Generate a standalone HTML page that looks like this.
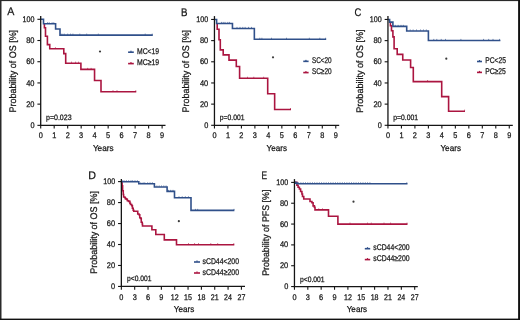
<!DOCTYPE html>
<html><head><meta charset="utf-8"><style>
html,body{margin:0;padding:0;background:#fff;}
svg{display:block;will-change:transform;}
text{font-family:'Liberation Sans', sans-serif;text-rendering:geometricPrecision;}
</style></head><body>
<svg xmlns="http://www.w3.org/2000/svg" width="520" height="320" viewBox="0 0 520 320">
<rect x="0" y="0" width="520" height="320" fill="#fff"/>
<path d="M44.4,23.8 V27.8 H45.5 V36.3 H47.4 V44.6 H49.75 V48.8 H63.8 V53.6 H65.7 V63.2 H80.9 V69.4 H94.55 V80.55 H101 V91.75 H136.25" fill="none" stroke="#ab1540" stroke-width="1.6" stroke-linejoin="miter" stroke-linecap="butt" />
<rect x="54.95" y="47.25" width="0.9" height="1.2" fill="#ab1540" fill-opacity="0.7"/>
<rect x="71.05" y="61.65" width="0.9" height="1.2" fill="#ab1540" fill-opacity="0.7"/>
<rect x="75.15" y="61.65" width="0.9" height="1.2" fill="#ab1540" fill-opacity="0.7"/>
<rect x="78.05" y="61.65" width="0.9" height="1.2" fill="#ab1540" fill-opacity="0.7"/>
<rect x="87.25" y="67.85" width="0.9" height="1.2" fill="#ab1540" fill-opacity="0.7"/>
<rect x="90.65" y="67.85" width="0.9" height="1.2" fill="#ab1540" fill-opacity="0.7"/>
<rect x="112.55" y="90.20" width="0.9" height="1.2" fill="#ab1540" fill-opacity="0.7"/>
<rect x="116.55" y="90.20" width="0.9" height="1.2" fill="#ab1540" fill-opacity="0.7"/>
<rect x="135.35" y="90.20" width="0.9" height="1.2" fill="#ab1540" fill-opacity="0.7"/>
<path d="M40.7,19.3 H43.5 V23.8 H55.6 V29.05 H60 V35.15 H152.8" fill="none" stroke="#30508a" stroke-width="1.6" stroke-linejoin="miter" stroke-linecap="butt" />
<rect x="47.05" y="22.25" width="0.9" height="1.2" fill="#30508a" fill-opacity="0.7"/>
<rect x="48.75" y="22.25" width="0.9" height="1.2" fill="#30508a" fill-opacity="0.7"/>
<rect x="51.65" y="22.25" width="0.9" height="1.2" fill="#30508a" fill-opacity="0.7"/>
<rect x="53.35" y="22.25" width="0.9" height="1.2" fill="#30508a" fill-opacity="0.7"/>
<rect x="61.45" y="33.60" width="0.9" height="1.2" fill="#30508a" fill-opacity="0.7"/>
<rect x="63.75" y="33.60" width="0.9" height="1.2" fill="#30508a" fill-opacity="0.7"/>
<rect x="67.25" y="33.60" width="0.9" height="1.2" fill="#30508a" fill-opacity="0.7"/>
<rect x="70.15" y="33.60" width="0.9" height="1.2" fill="#30508a" fill-opacity="0.7"/>
<rect x="72.45" y="33.60" width="0.9" height="1.2" fill="#30508a" fill-opacity="0.7"/>
<rect x="79.35" y="33.60" width="0.9" height="1.2" fill="#30508a" fill-opacity="0.7"/>
<rect x="86.25" y="33.60" width="0.9" height="1.2" fill="#30508a" fill-opacity="0.7"/>
<rect x="97.85" y="33.60" width="0.9" height="1.2" fill="#30508a" fill-opacity="0.7"/>
<rect x="144.75" y="33.60" width="0.9" height="1.2" fill="#30508a" fill-opacity="0.7"/>
<rect x="151.75" y="33.60" width="0.9" height="1.2" fill="#30508a" fill-opacity="0.7"/>
<line x1="40.70" y1="16.10" x2="40.70" y2="126.00" stroke="#151515" stroke-width="1.3"/>
<line x1="40.05" y1="125.35" x2="165.50" y2="125.35" stroke="#151515" stroke-width="1.3"/>
<line x1="37.40" y1="125.35" x2="40.70" y2="125.35" stroke="#151515" stroke-width="1.1"/>
<text x="34.50" y="127.95" font-size="8.2" text-anchor="end" textLength="4.10" lengthAdjust="spacingAndGlyphs" fill="#151515" stroke="#151515" stroke-width="0.25" >0</text>
<line x1="37.40" y1="104.14" x2="40.70" y2="104.14" stroke="#151515" stroke-width="1.1"/>
<text x="34.50" y="106.74" font-size="8.2" text-anchor="end" textLength="8.30" lengthAdjust="spacingAndGlyphs" fill="#151515" stroke="#151515" stroke-width="0.25" >20</text>
<line x1="37.40" y1="82.93" x2="40.70" y2="82.93" stroke="#151515" stroke-width="1.1"/>
<text x="34.50" y="85.53" font-size="8.2" text-anchor="end" textLength="8.30" lengthAdjust="spacingAndGlyphs" fill="#151515" stroke="#151515" stroke-width="0.25" >40</text>
<line x1="37.40" y1="61.72" x2="40.70" y2="61.72" stroke="#151515" stroke-width="1.1"/>
<text x="34.50" y="64.32" font-size="8.2" text-anchor="end" textLength="8.30" lengthAdjust="spacingAndGlyphs" fill="#151515" stroke="#151515" stroke-width="0.25" >60</text>
<line x1="37.40" y1="40.51" x2="40.70" y2="40.51" stroke="#151515" stroke-width="1.1"/>
<text x="34.50" y="43.11" font-size="8.2" text-anchor="end" textLength="8.30" lengthAdjust="spacingAndGlyphs" fill="#151515" stroke="#151515" stroke-width="0.25" >80</text>
<line x1="37.40" y1="19.30" x2="40.70" y2="19.30" stroke="#151515" stroke-width="1.1"/>
<text x="34.50" y="21.90" font-size="8.2" text-anchor="end" textLength="11.90" lengthAdjust="spacingAndGlyphs" fill="#151515" stroke="#151515" stroke-width="0.25" >100</text>
<line x1="40.70" y1="125.35" x2="40.70" y2="128.55" stroke="#151515" stroke-width="1.1"/>
<text x="40.70" y="138.00" font-size="8.2" text-anchor="middle" textLength="4.10" lengthAdjust="spacingAndGlyphs" fill="#151515" stroke="#151515" stroke-width="0.25" >0</text>
<line x1="54.19" y1="125.35" x2="54.19" y2="128.55" stroke="#151515" stroke-width="1.1"/>
<text x="54.19" y="138.00" font-size="8.2" text-anchor="middle" textLength="4.10" lengthAdjust="spacingAndGlyphs" fill="#151515" stroke="#151515" stroke-width="0.25" >1</text>
<line x1="67.68" y1="125.35" x2="67.68" y2="128.55" stroke="#151515" stroke-width="1.1"/>
<text x="67.68" y="138.00" font-size="8.2" text-anchor="middle" textLength="4.10" lengthAdjust="spacingAndGlyphs" fill="#151515" stroke="#151515" stroke-width="0.25" >2</text>
<line x1="81.17" y1="125.35" x2="81.17" y2="128.55" stroke="#151515" stroke-width="1.1"/>
<text x="81.17" y="138.00" font-size="8.2" text-anchor="middle" textLength="4.10" lengthAdjust="spacingAndGlyphs" fill="#151515" stroke="#151515" stroke-width="0.25" >3</text>
<line x1="94.66" y1="125.35" x2="94.66" y2="128.55" stroke="#151515" stroke-width="1.1"/>
<text x="94.66" y="138.00" font-size="8.2" text-anchor="middle" textLength="4.10" lengthAdjust="spacingAndGlyphs" fill="#151515" stroke="#151515" stroke-width="0.25" >4</text>
<line x1="108.15" y1="125.35" x2="108.15" y2="128.55" stroke="#151515" stroke-width="1.1"/>
<text x="108.15" y="138.00" font-size="8.2" text-anchor="middle" textLength="4.10" lengthAdjust="spacingAndGlyphs" fill="#151515" stroke="#151515" stroke-width="0.25" >5</text>
<line x1="121.64" y1="125.35" x2="121.64" y2="128.55" stroke="#151515" stroke-width="1.1"/>
<text x="121.64" y="138.00" font-size="8.2" text-anchor="middle" textLength="4.10" lengthAdjust="spacingAndGlyphs" fill="#151515" stroke="#151515" stroke-width="0.25" >6</text>
<line x1="135.13" y1="125.35" x2="135.13" y2="128.55" stroke="#151515" stroke-width="1.1"/>
<text x="135.13" y="138.00" font-size="8.2" text-anchor="middle" textLength="4.10" lengthAdjust="spacingAndGlyphs" fill="#151515" stroke="#151515" stroke-width="0.25" >7</text>
<line x1="148.62" y1="125.35" x2="148.62" y2="128.55" stroke="#151515" stroke-width="1.1"/>
<text x="148.62" y="138.00" font-size="8.2" text-anchor="middle" textLength="4.10" lengthAdjust="spacingAndGlyphs" fill="#151515" stroke="#151515" stroke-width="0.25" >8</text>
<line x1="162.11" y1="125.35" x2="162.11" y2="128.55" stroke="#151515" stroke-width="1.1"/>
<text x="162.11" y="138.00" font-size="8.2" text-anchor="middle" textLength="4.10" lengthAdjust="spacingAndGlyphs" fill="#151515" stroke="#151515" stroke-width="0.25" >9</text>
<text x="92.90" y="151.00" font-size="8.6" text-anchor="start" textLength="20.70" lengthAdjust="spacingAndGlyphs" fill="#151515" stroke="#151515" stroke-width="0.25" >Years</text>
<text x="0" y="0" font-size="9.6" text-anchor="middle" textLength="82.60" lengthAdjust="spacingAndGlyphs" fill="#151515" stroke="#151515" stroke-width="0.25" transform="translate(15.80,71.20) rotate(-90)">Probability of OS [%]</text>
<text x="7.30" y="15.40" font-size="11.1" text-anchor="start" textLength="7.10" lengthAdjust="spacingAndGlyphs" fill="#151515" stroke="#151515" stroke-width="0.25" >A</text>
<text x="46.00" y="120.20" font-size="7.8" text-anchor="start" textLength="25.60" lengthAdjust="spacingAndGlyphs" fill="#151515" stroke="#151515" stroke-width="0.25" >p=0.023</text>
<line x1="128.10" y1="52.20" x2="133.80" y2="52.20" stroke="#30508a" stroke-width="1.6"/>
<rect x="130.35" y="50.70" width="1.2" height="1.2" fill="#30508a"/>
<text x="137.00" y="53.75" font-size="8.3" text-anchor="start" textLength="22.10" lengthAdjust="spacingAndGlyphs" fill="#151515" stroke="#151515" stroke-width="0.25" >MC&lt;19</text>
<line x1="128.10" y1="63.60" x2="133.80" y2="63.60" stroke="#ab1540" stroke-width="1.6"/>
<rect x="130.35" y="62.10" width="1.2" height="1.2" fill="#ab1540"/>
<text x="137.00" y="65.30" font-size="8.3" text-anchor="start" textLength="22.10" lengthAdjust="spacingAndGlyphs" fill="#151515" stroke="#151515" stroke-width="0.25" >MC≥19</text>
<circle cx="100.00" cy="51.50" r="1.1" fill="#3a3a3a"/>
<path d="M217.2,23.45 V29.2 H219 V39.7 H220.3 V49.9 H223.2 V54.9 H229 V60.1 H236.3 V66.5 H239.6 V78.3 H267.7 V93.8 H274.65 V109.55 H291" fill="none" stroke="#ab1540" stroke-width="1.6" stroke-linejoin="miter" stroke-linecap="butt" />
<rect x="247.05" y="76.75" width="0.9" height="1.2" fill="#ab1540" fill-opacity="0.7"/>
<rect x="253.35" y="76.75" width="0.9" height="1.2" fill="#ab1540" fill-opacity="0.7"/>
<rect x="263.25" y="76.75" width="0.9" height="1.2" fill="#ab1540" fill-opacity="0.7"/>
<rect x="290.05" y="108.00" width="0.9" height="1.2" fill="#ab1540" fill-opacity="0.7"/>
<path d="M214.45,19.45 H216.6 V23.45 H232.45 V28.45 H254.35 V39.3 H326.2" fill="none" stroke="#30508a" stroke-width="1.6" stroke-linejoin="miter" stroke-linecap="butt" />
<rect x="221.05" y="21.90" width="0.9" height="1.2" fill="#30508a" fill-opacity="0.7"/>
<rect x="222.75" y="21.90" width="0.9" height="1.2" fill="#30508a" fill-opacity="0.7"/>
<rect x="224.55" y="21.90" width="0.9" height="1.2" fill="#30508a" fill-opacity="0.7"/>
<rect x="227.35" y="21.90" width="0.9" height="1.2" fill="#30508a" fill-opacity="0.7"/>
<rect x="229.15" y="21.90" width="0.9" height="1.2" fill="#30508a" fill-opacity="0.7"/>
<rect x="236.55" y="26.90" width="0.9" height="1.2" fill="#30508a" fill-opacity="0.7"/>
<rect x="239.55" y="26.90" width="0.9" height="1.2" fill="#30508a" fill-opacity="0.7"/>
<rect x="242.35" y="26.90" width="0.9" height="1.2" fill="#30508a" fill-opacity="0.7"/>
<rect x="244.65" y="26.90" width="0.9" height="1.2" fill="#30508a" fill-opacity="0.7"/>
<rect x="248.15" y="26.90" width="0.9" height="1.2" fill="#30508a" fill-opacity="0.7"/>
<rect x="251.05" y="26.90" width="0.9" height="1.2" fill="#30508a" fill-opacity="0.7"/>
<rect x="259.35" y="37.75" width="0.9" height="1.2" fill="#30508a" fill-opacity="0.7"/>
<rect x="261.45" y="37.75" width="0.9" height="1.2" fill="#30508a" fill-opacity="0.7"/>
<rect x="271.05" y="37.75" width="0.9" height="1.2" fill="#30508a" fill-opacity="0.7"/>
<rect x="286.05" y="37.75" width="0.9" height="1.2" fill="#30508a" fill-opacity="0.7"/>
<rect x="308.85" y="37.75" width="0.9" height="1.2" fill="#30508a" fill-opacity="0.7"/>
<rect x="319.35" y="37.75" width="0.9" height="1.2" fill="#30508a" fill-opacity="0.7"/>
<rect x="325.15" y="37.75" width="0.9" height="1.2" fill="#30508a" fill-opacity="0.7"/>
<line x1="214.45" y1="16.10" x2="214.45" y2="125.95" stroke="#151515" stroke-width="1.3"/>
<line x1="213.80" y1="125.30" x2="339.20" y2="125.30" stroke="#151515" stroke-width="1.3"/>
<line x1="211.15" y1="125.30" x2="214.45" y2="125.30" stroke="#151515" stroke-width="1.1"/>
<text x="208.25" y="127.90" font-size="8.2" text-anchor="end" textLength="4.10" lengthAdjust="spacingAndGlyphs" fill="#151515" stroke="#151515" stroke-width="0.25" >0</text>
<line x1="211.15" y1="104.13" x2="214.45" y2="104.13" stroke="#151515" stroke-width="1.1"/>
<text x="208.25" y="106.73" font-size="8.2" text-anchor="end" textLength="8.30" lengthAdjust="spacingAndGlyphs" fill="#151515" stroke="#151515" stroke-width="0.25" >20</text>
<line x1="211.15" y1="82.96" x2="214.45" y2="82.96" stroke="#151515" stroke-width="1.1"/>
<text x="208.25" y="85.56" font-size="8.2" text-anchor="end" textLength="8.30" lengthAdjust="spacingAndGlyphs" fill="#151515" stroke="#151515" stroke-width="0.25" >40</text>
<line x1="211.15" y1="61.79" x2="214.45" y2="61.79" stroke="#151515" stroke-width="1.1"/>
<text x="208.25" y="64.39" font-size="8.2" text-anchor="end" textLength="8.30" lengthAdjust="spacingAndGlyphs" fill="#151515" stroke="#151515" stroke-width="0.25" >60</text>
<line x1="211.15" y1="40.62" x2="214.45" y2="40.62" stroke="#151515" stroke-width="1.1"/>
<text x="208.25" y="43.22" font-size="8.2" text-anchor="end" textLength="8.30" lengthAdjust="spacingAndGlyphs" fill="#151515" stroke="#151515" stroke-width="0.25" >80</text>
<line x1="211.15" y1="19.45" x2="214.45" y2="19.45" stroke="#151515" stroke-width="1.1"/>
<text x="208.25" y="22.05" font-size="8.2" text-anchor="end" textLength="11.90" lengthAdjust="spacingAndGlyphs" fill="#151515" stroke="#151515" stroke-width="0.25" >100</text>
<line x1="214.45" y1="125.30" x2="214.45" y2="128.50" stroke="#151515" stroke-width="1.1"/>
<text x="214.45" y="138.00" font-size="8.2" text-anchor="middle" textLength="4.10" lengthAdjust="spacingAndGlyphs" fill="#151515" stroke="#151515" stroke-width="0.25" >0</text>
<line x1="227.93" y1="125.30" x2="227.93" y2="128.50" stroke="#151515" stroke-width="1.1"/>
<text x="227.93" y="138.00" font-size="8.2" text-anchor="middle" textLength="4.10" lengthAdjust="spacingAndGlyphs" fill="#151515" stroke="#151515" stroke-width="0.25" >1</text>
<line x1="241.41" y1="125.30" x2="241.41" y2="128.50" stroke="#151515" stroke-width="1.1"/>
<text x="241.41" y="138.00" font-size="8.2" text-anchor="middle" textLength="4.10" lengthAdjust="spacingAndGlyphs" fill="#151515" stroke="#151515" stroke-width="0.25" >2</text>
<line x1="254.89" y1="125.30" x2="254.89" y2="128.50" stroke="#151515" stroke-width="1.1"/>
<text x="254.89" y="138.00" font-size="8.2" text-anchor="middle" textLength="4.10" lengthAdjust="spacingAndGlyphs" fill="#151515" stroke="#151515" stroke-width="0.25" >3</text>
<line x1="268.37" y1="125.30" x2="268.37" y2="128.50" stroke="#151515" stroke-width="1.1"/>
<text x="268.37" y="138.00" font-size="8.2" text-anchor="middle" textLength="4.10" lengthAdjust="spacingAndGlyphs" fill="#151515" stroke="#151515" stroke-width="0.25" >4</text>
<line x1="281.85" y1="125.30" x2="281.85" y2="128.50" stroke="#151515" stroke-width="1.1"/>
<text x="281.85" y="138.00" font-size="8.2" text-anchor="middle" textLength="4.10" lengthAdjust="spacingAndGlyphs" fill="#151515" stroke="#151515" stroke-width="0.25" >5</text>
<line x1="295.33" y1="125.30" x2="295.33" y2="128.50" stroke="#151515" stroke-width="1.1"/>
<text x="295.33" y="138.00" font-size="8.2" text-anchor="middle" textLength="4.10" lengthAdjust="spacingAndGlyphs" fill="#151515" stroke="#151515" stroke-width="0.25" >6</text>
<line x1="308.81" y1="125.30" x2="308.81" y2="128.50" stroke="#151515" stroke-width="1.1"/>
<text x="308.81" y="138.00" font-size="8.2" text-anchor="middle" textLength="4.10" lengthAdjust="spacingAndGlyphs" fill="#151515" stroke="#151515" stroke-width="0.25" >7</text>
<line x1="322.29" y1="125.30" x2="322.29" y2="128.50" stroke="#151515" stroke-width="1.1"/>
<text x="322.29" y="138.00" font-size="8.2" text-anchor="middle" textLength="4.10" lengthAdjust="spacingAndGlyphs" fill="#151515" stroke="#151515" stroke-width="0.25" >8</text>
<line x1="335.77" y1="125.30" x2="335.77" y2="128.50" stroke="#151515" stroke-width="1.1"/>
<text x="335.77" y="138.00" font-size="8.2" text-anchor="middle" textLength="4.10" lengthAdjust="spacingAndGlyphs" fill="#151515" stroke="#151515" stroke-width="0.25" >9</text>
<text x="266.50" y="151.00" font-size="8.6" text-anchor="start" textLength="20.50" lengthAdjust="spacingAndGlyphs" fill="#151515" stroke="#151515" stroke-width="0.25" >Years</text>
<text x="0" y="0" font-size="9.6" text-anchor="middle" textLength="82.60" lengthAdjust="spacingAndGlyphs" fill="#151515" stroke="#151515" stroke-width="0.25" transform="translate(188.80,71.20) rotate(-90)">Probability of OS [%]</text>
<text x="181.10" y="15.80" font-size="11.1" text-anchor="start" textLength="6.50" lengthAdjust="spacingAndGlyphs" fill="#151515" stroke="#151515" stroke-width="0.25" >B</text>
<text x="219.80" y="120.20" font-size="7.8" text-anchor="start" textLength="24.60" lengthAdjust="spacingAndGlyphs" fill="#151515" stroke="#151515" stroke-width="0.25" >p=0.001</text>
<line x1="303.25" y1="61.35" x2="308.60" y2="61.35" stroke="#30508a" stroke-width="1.6"/>
<rect x="305.32" y="59.85" width="1.2" height="1.2" fill="#30508a"/>
<text x="311.90" y="62.65" font-size="8.3" text-anchor="start" textLength="19.70" lengthAdjust="spacingAndGlyphs" fill="#151515" stroke="#151515" stroke-width="0.25" >SC&lt;20</text>
<line x1="303.25" y1="72.60" x2="308.60" y2="72.60" stroke="#ab1540" stroke-width="1.6"/>
<rect x="305.32" y="71.10" width="1.2" height="1.2" fill="#ab1540"/>
<text x="311.90" y="73.90" font-size="8.3" text-anchor="start" textLength="19.70" lengthAdjust="spacingAndGlyphs" fill="#151515" stroke="#151515" stroke-width="0.25" >SC≥20</text>
<circle cx="273.00" cy="57.30" r="1.1" fill="#3a3a3a"/>
<path d="M390.4,22.1 V25.8 H391.5 V30.7 H392.9 V36.9 H394.1 V48.8 H397.2 V54.4 H402.75 V60 H410.6 V67.5 H413.3 V81.6 H441.7 V96.6 H448.6 V111.2 H465" fill="none" stroke="#ab1540" stroke-width="1.6" stroke-linejoin="miter" stroke-linecap="butt" />
<rect x="427.15" y="80.05" width="0.9" height="1.2" fill="#ab1540" fill-opacity="0.7"/>
<rect x="464.15" y="109.65" width="0.9" height="1.2" fill="#ab1540" fill-opacity="0.7"/>
<path d="M387.95,19.45 H389.6 V22.1 H392.9 V26.4 H406.7 V31 H428.4 V40.45 H500.4" fill="none" stroke="#30508a" stroke-width="1.6" stroke-linejoin="miter" stroke-linecap="butt" />
<rect x="394.75" y="24.85" width="0.9" height="1.2" fill="#30508a" fill-opacity="0.7"/>
<rect x="397.65" y="24.85" width="0.9" height="1.2" fill="#30508a" fill-opacity="0.7"/>
<rect x="400.55" y="24.85" width="0.9" height="1.2" fill="#30508a" fill-opacity="0.7"/>
<rect x="402.85" y="24.85" width="0.9" height="1.2" fill="#30508a" fill-opacity="0.7"/>
<rect x="409.75" y="29.45" width="0.9" height="1.2" fill="#30508a" fill-opacity="0.7"/>
<rect x="412.65" y="29.45" width="0.9" height="1.2" fill="#30508a" fill-opacity="0.7"/>
<rect x="416.05" y="29.45" width="0.9" height="1.2" fill="#30508a" fill-opacity="0.7"/>
<rect x="420.15" y="29.45" width="0.9" height="1.2" fill="#30508a" fill-opacity="0.7"/>
<rect x="422.95" y="29.45" width="0.9" height="1.2" fill="#30508a" fill-opacity="0.7"/>
<rect x="425.85" y="29.45" width="0.9" height="1.2" fill="#30508a" fill-opacity="0.7"/>
<rect x="433.35" y="38.90" width="0.9" height="1.2" fill="#30508a" fill-opacity="0.7"/>
<rect x="436.35" y="38.90" width="0.9" height="1.2" fill="#30508a" fill-opacity="0.7"/>
<rect x="440.75" y="38.90" width="0.9" height="1.2" fill="#30508a" fill-opacity="0.7"/>
<rect x="445.05" y="38.90" width="0.9" height="1.2" fill="#30508a" fill-opacity="0.7"/>
<rect x="460.45" y="38.90" width="0.9" height="1.2" fill="#30508a" fill-opacity="0.7"/>
<rect x="483.15" y="38.90" width="0.9" height="1.2" fill="#30508a" fill-opacity="0.7"/>
<rect x="488.25" y="38.90" width="0.9" height="1.2" fill="#30508a" fill-opacity="0.7"/>
<rect x="492.55" y="38.90" width="0.9" height="1.2" fill="#30508a" fill-opacity="0.7"/>
<rect x="499.15" y="38.90" width="0.9" height="1.2" fill="#30508a" fill-opacity="0.7"/>
<line x1="387.95" y1="16.10" x2="387.95" y2="125.95" stroke="#151515" stroke-width="1.3"/>
<line x1="387.30" y1="125.30" x2="512.80" y2="125.30" stroke="#151515" stroke-width="1.3"/>
<line x1="384.65" y1="125.30" x2="387.95" y2="125.30" stroke="#151515" stroke-width="1.1"/>
<text x="381.75" y="127.90" font-size="8.2" text-anchor="end" textLength="4.10" lengthAdjust="spacingAndGlyphs" fill="#151515" stroke="#151515" stroke-width="0.25" >0</text>
<line x1="384.65" y1="104.13" x2="387.95" y2="104.13" stroke="#151515" stroke-width="1.1"/>
<text x="381.75" y="106.73" font-size="8.2" text-anchor="end" textLength="8.30" lengthAdjust="spacingAndGlyphs" fill="#151515" stroke="#151515" stroke-width="0.25" >20</text>
<line x1="384.65" y1="82.96" x2="387.95" y2="82.96" stroke="#151515" stroke-width="1.1"/>
<text x="381.75" y="85.56" font-size="8.2" text-anchor="end" textLength="8.30" lengthAdjust="spacingAndGlyphs" fill="#151515" stroke="#151515" stroke-width="0.25" >40</text>
<line x1="384.65" y1="61.79" x2="387.95" y2="61.79" stroke="#151515" stroke-width="1.1"/>
<text x="381.75" y="64.39" font-size="8.2" text-anchor="end" textLength="8.30" lengthAdjust="spacingAndGlyphs" fill="#151515" stroke="#151515" stroke-width="0.25" >60</text>
<line x1="384.65" y1="40.62" x2="387.95" y2="40.62" stroke="#151515" stroke-width="1.1"/>
<text x="381.75" y="43.22" font-size="8.2" text-anchor="end" textLength="8.30" lengthAdjust="spacingAndGlyphs" fill="#151515" stroke="#151515" stroke-width="0.25" >80</text>
<line x1="384.65" y1="19.45" x2="387.95" y2="19.45" stroke="#151515" stroke-width="1.1"/>
<text x="381.75" y="22.05" font-size="8.2" text-anchor="end" textLength="11.90" lengthAdjust="spacingAndGlyphs" fill="#151515" stroke="#151515" stroke-width="0.25" >100</text>
<line x1="387.95" y1="125.30" x2="387.95" y2="128.50" stroke="#151515" stroke-width="1.1"/>
<text x="387.95" y="138.00" font-size="8.2" text-anchor="middle" textLength="4.10" lengthAdjust="spacingAndGlyphs" fill="#151515" stroke="#151515" stroke-width="0.25" >0</text>
<line x1="401.43" y1="125.30" x2="401.43" y2="128.50" stroke="#151515" stroke-width="1.1"/>
<text x="401.43" y="138.00" font-size="8.2" text-anchor="middle" textLength="4.10" lengthAdjust="spacingAndGlyphs" fill="#151515" stroke="#151515" stroke-width="0.25" >1</text>
<line x1="414.91" y1="125.30" x2="414.91" y2="128.50" stroke="#151515" stroke-width="1.1"/>
<text x="414.91" y="138.00" font-size="8.2" text-anchor="middle" textLength="4.10" lengthAdjust="spacingAndGlyphs" fill="#151515" stroke="#151515" stroke-width="0.25" >2</text>
<line x1="428.39" y1="125.30" x2="428.39" y2="128.50" stroke="#151515" stroke-width="1.1"/>
<text x="428.39" y="138.00" font-size="8.2" text-anchor="middle" textLength="4.10" lengthAdjust="spacingAndGlyphs" fill="#151515" stroke="#151515" stroke-width="0.25" >3</text>
<line x1="441.87" y1="125.30" x2="441.87" y2="128.50" stroke="#151515" stroke-width="1.1"/>
<text x="441.87" y="138.00" font-size="8.2" text-anchor="middle" textLength="4.10" lengthAdjust="spacingAndGlyphs" fill="#151515" stroke="#151515" stroke-width="0.25" >4</text>
<line x1="455.35" y1="125.30" x2="455.35" y2="128.50" stroke="#151515" stroke-width="1.1"/>
<text x="455.35" y="138.00" font-size="8.2" text-anchor="middle" textLength="4.10" lengthAdjust="spacingAndGlyphs" fill="#151515" stroke="#151515" stroke-width="0.25" >5</text>
<line x1="468.83" y1="125.30" x2="468.83" y2="128.50" stroke="#151515" stroke-width="1.1"/>
<text x="468.83" y="138.00" font-size="8.2" text-anchor="middle" textLength="4.10" lengthAdjust="spacingAndGlyphs" fill="#151515" stroke="#151515" stroke-width="0.25" >6</text>
<line x1="482.31" y1="125.30" x2="482.31" y2="128.50" stroke="#151515" stroke-width="1.1"/>
<text x="482.31" y="138.00" font-size="8.2" text-anchor="middle" textLength="4.10" lengthAdjust="spacingAndGlyphs" fill="#151515" stroke="#151515" stroke-width="0.25" >7</text>
<line x1="495.79" y1="125.30" x2="495.79" y2="128.50" stroke="#151515" stroke-width="1.1"/>
<text x="495.79" y="138.00" font-size="8.2" text-anchor="middle" textLength="4.10" lengthAdjust="spacingAndGlyphs" fill="#151515" stroke="#151515" stroke-width="0.25" >8</text>
<line x1="509.27" y1="125.30" x2="509.27" y2="128.50" stroke="#151515" stroke-width="1.1"/>
<text x="509.27" y="138.00" font-size="8.2" text-anchor="middle" textLength="4.10" lengthAdjust="spacingAndGlyphs" fill="#151515" stroke="#151515" stroke-width="0.25" >9</text>
<text x="440.40" y="151.00" font-size="8.6" text-anchor="start" textLength="20.60" lengthAdjust="spacingAndGlyphs" fill="#151515" stroke="#151515" stroke-width="0.25" >Years</text>
<text x="0" y="0" font-size="9.6" text-anchor="middle" textLength="83.05" lengthAdjust="spacingAndGlyphs" fill="#151515" stroke="#151515" stroke-width="0.25" transform="translate(362.85,71.12) rotate(-90)">Probability of OS [%]</text>
<text x="354.50" y="16.00" font-size="11.1" text-anchor="start" textLength="6.80" lengthAdjust="spacingAndGlyphs" fill="#151515" stroke="#151515" stroke-width="0.25" >C</text>
<text x="393.20" y="120.20" font-size="7.8" text-anchor="start" textLength="24.80" lengthAdjust="spacingAndGlyphs" fill="#151515" stroke="#151515" stroke-width="0.25" >p=0.001</text>
<line x1="477.00" y1="61.50" x2="482.00" y2="61.50" stroke="#30508a" stroke-width="1.6"/>
<rect x="478.90" y="60.00" width="1.2" height="1.2" fill="#30508a"/>
<text x="485.20" y="62.65" font-size="8.3" text-anchor="start" textLength="20.70" lengthAdjust="spacingAndGlyphs" fill="#151515" stroke="#151515" stroke-width="0.25" >PC&lt;25</text>
<line x1="477.00" y1="72.40" x2="482.00" y2="72.40" stroke="#ab1540" stroke-width="1.6"/>
<rect x="478.90" y="70.90" width="1.2" height="1.2" fill="#ab1540"/>
<text x="485.20" y="73.90" font-size="8.3" text-anchor="start" textLength="20.70" lengthAdjust="spacingAndGlyphs" fill="#151515" stroke="#151515" stroke-width="0.25" >PC≥25</text>
<circle cx="446.30" cy="58.70" r="1.1" fill="#3a3a3a"/>
<path d="M121.35,181.90 H121.70 V182.70 H122.10 V185.80 H122.60 V190.80 H123.25 V194.55 H123.60 V197.05 H124.90 V197.70 H125.50 V198.90 H126.75 V199.55 H127.40 V200.80 H128.60 V201.40 H129.90 V203.30 H130.50 V204.55 H131.75 V205.80 H132.40 V208.30 H133.20 V210.20 H133.75 V211.30 H136.90 V211.30 H137.75 V214.05 H139.00 V214.70 H139.75 V217.80 H140.60 V218.40 H141.25 V222.20 H142.25 V224.05 H142.50 V226.00 H151.90 V229.80 H155.80 V234.50 H164.30 V239.90 H176.50 V244.70 H234.30" fill="none" stroke="#ab1540" stroke-width="1.6" stroke-linejoin="miter" stroke-linecap="butt" />
<rect x="188.05" y="243.15" width="0.9" height="1.2" fill="#ab1540" fill-opacity="0.7"/>
<rect x="194.15" y="243.15" width="0.9" height="1.2" fill="#ab1540" fill-opacity="0.7"/>
<rect x="198.05" y="243.15" width="0.9" height="1.2" fill="#ab1540" fill-opacity="0.7"/>
<rect x="210.35" y="243.15" width="0.9" height="1.2" fill="#ab1540" fill-opacity="0.7"/>
<rect x="217.25" y="243.15" width="0.9" height="1.2" fill="#ab1540" fill-opacity="0.7"/>
<rect x="233.35" y="243.15" width="0.9" height="1.2" fill="#ab1540" fill-opacity="0.7"/>
<path d="M121.35,181.7 H138.8 V183.8 H154.4 V187 H167.1 V191.4 H174.5 V197.8 H191 V210.4 H234.4" fill="none" stroke="#30508a" stroke-width="1.6" stroke-linejoin="miter" stroke-linecap="butt" />
<rect x="121.85" y="180.15" width="0.9" height="1.2" fill="#30508a" fill-opacity="0.7"/>
<rect x="123.55" y="180.15" width="0.9" height="1.2" fill="#30508a" fill-opacity="0.7"/>
<rect x="125.85" y="180.15" width="0.9" height="1.2" fill="#30508a" fill-opacity="0.7"/>
<rect x="128.25" y="180.15" width="0.9" height="1.2" fill="#30508a" fill-opacity="0.7"/>
<rect x="130.55" y="180.15" width="0.9" height="1.2" fill="#30508a" fill-opacity="0.7"/>
<rect x="132.25" y="180.15" width="0.9" height="1.2" fill="#30508a" fill-opacity="0.7"/>
<rect x="134.55" y="180.15" width="0.9" height="1.2" fill="#30508a" fill-opacity="0.7"/>
<rect x="136.85" y="180.15" width="0.9" height="1.2" fill="#30508a" fill-opacity="0.7"/>
<rect x="140.35" y="182.25" width="0.9" height="1.2" fill="#30508a" fill-opacity="0.7"/>
<rect x="142.65" y="182.25" width="0.9" height="1.2" fill="#30508a" fill-opacity="0.7"/>
<rect x="144.35" y="182.25" width="0.9" height="1.2" fill="#30508a" fill-opacity="0.7"/>
<rect x="147.25" y="182.25" width="0.9" height="1.2" fill="#30508a" fill-opacity="0.7"/>
<rect x="149.55" y="182.25" width="0.9" height="1.2" fill="#30508a" fill-opacity="0.7"/>
<rect x="151.85" y="182.25" width="0.9" height="1.2" fill="#30508a" fill-opacity="0.7"/>
<rect x="156.45" y="185.45" width="0.9" height="1.2" fill="#30508a" fill-opacity="0.7"/>
<rect x="158.75" y="185.45" width="0.9" height="1.2" fill="#30508a" fill-opacity="0.7"/>
<rect x="161.05" y="185.45" width="0.9" height="1.2" fill="#30508a" fill-opacity="0.7"/>
<rect x="163.35" y="185.45" width="0.9" height="1.2" fill="#30508a" fill-opacity="0.7"/>
<rect x="165.65" y="185.45" width="0.9" height="1.2" fill="#30508a" fill-opacity="0.7"/>
<rect x="167.95" y="189.85" width="0.9" height="1.2" fill="#30508a" fill-opacity="0.7"/>
<rect x="170.25" y="189.85" width="0.9" height="1.2" fill="#30508a" fill-opacity="0.7"/>
<rect x="172.55" y="189.85" width="0.9" height="1.2" fill="#30508a" fill-opacity="0.7"/>
<rect x="178.55" y="196.25" width="0.9" height="1.2" fill="#30508a" fill-opacity="0.7"/>
<rect x="181.75" y="196.25" width="0.9" height="1.2" fill="#30508a" fill-opacity="0.7"/>
<rect x="184.85" y="196.25" width="0.9" height="1.2" fill="#30508a" fill-opacity="0.7"/>
<rect x="187.95" y="196.25" width="0.9" height="1.2" fill="#30508a" fill-opacity="0.7"/>
<rect x="194.95" y="208.85" width="0.9" height="1.2" fill="#30508a" fill-opacity="0.7"/>
<rect x="197.25" y="208.85" width="0.9" height="1.2" fill="#30508a" fill-opacity="0.7"/>
<rect x="233.55" y="208.85" width="0.9" height="1.2" fill="#30508a" fill-opacity="0.7"/>
<line x1="121.35" y1="178.90" x2="121.35" y2="287.10" stroke="#151515" stroke-width="1.3"/>
<line x1="120.70" y1="286.45" x2="245.00" y2="286.45" stroke="#151515" stroke-width="1.3"/>
<line x1="118.05" y1="286.45" x2="121.35" y2="286.45" stroke="#151515" stroke-width="1.1"/>
<text x="115.15" y="289.05" font-size="8.2" text-anchor="end" textLength="4.10" lengthAdjust="spacingAndGlyphs" fill="#151515" stroke="#151515" stroke-width="0.25" >0</text>
<line x1="118.05" y1="265.48" x2="121.35" y2="265.48" stroke="#151515" stroke-width="1.1"/>
<text x="115.15" y="268.08" font-size="8.2" text-anchor="end" textLength="8.30" lengthAdjust="spacingAndGlyphs" fill="#151515" stroke="#151515" stroke-width="0.25" >20</text>
<line x1="118.05" y1="244.51" x2="121.35" y2="244.51" stroke="#151515" stroke-width="1.1"/>
<text x="115.15" y="247.11" font-size="8.2" text-anchor="end" textLength="8.30" lengthAdjust="spacingAndGlyphs" fill="#151515" stroke="#151515" stroke-width="0.25" >40</text>
<line x1="118.05" y1="223.54" x2="121.35" y2="223.54" stroke="#151515" stroke-width="1.1"/>
<text x="115.15" y="226.14" font-size="8.2" text-anchor="end" textLength="8.30" lengthAdjust="spacingAndGlyphs" fill="#151515" stroke="#151515" stroke-width="0.25" >60</text>
<line x1="118.05" y1="202.57" x2="121.35" y2="202.57" stroke="#151515" stroke-width="1.1"/>
<text x="115.15" y="205.17" font-size="8.2" text-anchor="end" textLength="8.30" lengthAdjust="spacingAndGlyphs" fill="#151515" stroke="#151515" stroke-width="0.25" >80</text>
<line x1="118.05" y1="181.60" x2="121.35" y2="181.60" stroke="#151515" stroke-width="1.1"/>
<text x="115.15" y="184.20" font-size="8.2" text-anchor="end" textLength="11.90" lengthAdjust="spacingAndGlyphs" fill="#151515" stroke="#151515" stroke-width="0.25" >100</text>
<line x1="121.35" y1="286.45" x2="121.35" y2="289.65" stroke="#151515" stroke-width="1.1"/>
<text x="121.35" y="299.70" font-size="8.2" text-anchor="middle" textLength="4.10" lengthAdjust="spacingAndGlyphs" fill="#151515" stroke="#151515" stroke-width="0.25" >0</text>
<line x1="134.69" y1="286.45" x2="134.69" y2="289.65" stroke="#151515" stroke-width="1.1"/>
<text x="134.69" y="299.70" font-size="8.2" text-anchor="middle" textLength="4.10" lengthAdjust="spacingAndGlyphs" fill="#151515" stroke="#151515" stroke-width="0.25" >3</text>
<line x1="148.03" y1="286.45" x2="148.03" y2="289.65" stroke="#151515" stroke-width="1.1"/>
<text x="148.03" y="299.70" font-size="8.2" text-anchor="middle" textLength="4.10" lengthAdjust="spacingAndGlyphs" fill="#151515" stroke="#151515" stroke-width="0.25" >6</text>
<line x1="161.37" y1="286.45" x2="161.37" y2="289.65" stroke="#151515" stroke-width="1.1"/>
<text x="161.37" y="299.70" font-size="8.2" text-anchor="middle" textLength="4.10" lengthAdjust="spacingAndGlyphs" fill="#151515" stroke="#151515" stroke-width="0.25" >9</text>
<line x1="174.71" y1="286.45" x2="174.71" y2="289.65" stroke="#151515" stroke-width="1.1"/>
<text x="174.71" y="299.70" font-size="8.2" text-anchor="middle" textLength="7.90" lengthAdjust="spacingAndGlyphs" fill="#151515" stroke="#151515" stroke-width="0.25" >12</text>
<line x1="188.05" y1="286.45" x2="188.05" y2="289.65" stroke="#151515" stroke-width="1.1"/>
<text x="188.05" y="299.70" font-size="8.2" text-anchor="middle" textLength="7.90" lengthAdjust="spacingAndGlyphs" fill="#151515" stroke="#151515" stroke-width="0.25" >15</text>
<line x1="201.39" y1="286.45" x2="201.39" y2="289.65" stroke="#151515" stroke-width="1.1"/>
<text x="201.39" y="299.70" font-size="8.2" text-anchor="middle" textLength="7.90" lengthAdjust="spacingAndGlyphs" fill="#151515" stroke="#151515" stroke-width="0.25" >18</text>
<line x1="214.73" y1="286.45" x2="214.73" y2="289.65" stroke="#151515" stroke-width="1.1"/>
<text x="214.73" y="299.70" font-size="8.2" text-anchor="middle" textLength="7.90" lengthAdjust="spacingAndGlyphs" fill="#151515" stroke="#151515" stroke-width="0.25" >21</text>
<line x1="228.07" y1="286.45" x2="228.07" y2="289.65" stroke="#151515" stroke-width="1.1"/>
<text x="228.07" y="299.70" font-size="8.2" text-anchor="middle" textLength="7.90" lengthAdjust="spacingAndGlyphs" fill="#151515" stroke="#151515" stroke-width="0.25" >24</text>
<line x1="241.41" y1="286.45" x2="241.41" y2="289.65" stroke="#151515" stroke-width="1.1"/>
<text x="241.41" y="299.70" font-size="8.2" text-anchor="middle" textLength="7.90" lengthAdjust="spacingAndGlyphs" fill="#151515" stroke="#151515" stroke-width="0.25" >27</text>
<text x="173.75" y="312.40" font-size="8.6" text-anchor="start" textLength="20.55" lengthAdjust="spacingAndGlyphs" fill="#151515" stroke="#151515" stroke-width="0.25" >Years</text>
<text x="0" y="0" font-size="9.6" text-anchor="middle" textLength="82.60" lengthAdjust="spacingAndGlyphs" fill="#151515" stroke="#151515" stroke-width="0.25" transform="translate(96.50,232.40) rotate(-90)">Probability of OS [%]</text>
<text x="88.20" y="179.20" font-size="11.1" text-anchor="start" textLength="7.70" lengthAdjust="spacingAndGlyphs" fill="#151515" stroke="#151515" stroke-width="0.25" >D</text>
<text x="127.00" y="281.20" font-size="7.8" text-anchor="start" textLength="24.40" lengthAdjust="spacingAndGlyphs" fill="#151515" stroke="#151515" stroke-width="0.25" >p&lt;0.001</text>
<line x1="194.00" y1="262.00" x2="200.00" y2="262.00" stroke="#30508a" stroke-width="1.6"/>
<rect x="196.40" y="260.50" width="1.2" height="1.2" fill="#30508a"/>
<text x="202.50" y="264.00" font-size="8.3" text-anchor="start" textLength="36.50" lengthAdjust="spacingAndGlyphs" fill="#151515" stroke="#151515" stroke-width="0.25" >sCD44&lt;200</text>
<line x1="194.00" y1="273.00" x2="200.00" y2="273.00" stroke="#ab1540" stroke-width="1.6"/>
<rect x="196.40" y="271.50" width="1.2" height="1.2" fill="#ab1540"/>
<text x="202.50" y="274.85" font-size="8.3" text-anchor="start" textLength="36.50" lengthAdjust="spacingAndGlyphs" fill="#151515" stroke="#151515" stroke-width="0.25" >sCD44≥200</text>
<circle cx="178.85" cy="221.15" r="1.1" fill="#3a3a3a"/>
<path d="M294.45,182.40 H295.00 V182.40 H296.90 V185.30 H298.10 V187.20 H299.40 V189.05 H300.60 V191.55 H301.90 V194.05 H302.50 V196.55 H303.75 V199.05 H310.00 V201.55 H311.90 V202.80 H313.10 V205.90 H314.40 V207.20 H315.00 V209.90 H328.50 V216.30 H337.90 V224.15 H407.50" fill="none" stroke="#ab1540" stroke-width="1.6" stroke-linejoin="miter" stroke-linecap="butt" />
<rect x="318.30" y="208.35" width="0.9" height="1.2" fill="#ab1540" fill-opacity="0.7"/>
<rect x="322.05" y="208.35" width="0.9" height="1.2" fill="#ab1540" fill-opacity="0.7"/>
<rect x="349.55" y="222.60" width="0.9" height="1.2" fill="#ab1540" fill-opacity="0.7"/>
<rect x="367.05" y="222.60" width="0.9" height="1.2" fill="#ab1540" fill-opacity="0.7"/>
<rect x="370.80" y="222.60" width="0.9" height="1.2" fill="#ab1540" fill-opacity="0.7"/>
<rect x="383.55" y="222.60" width="0.9" height="1.2" fill="#ab1540" fill-opacity="0.7"/>
<rect x="390.15" y="222.60" width="0.9" height="1.2" fill="#ab1540" fill-opacity="0.7"/>
<rect x="406.55" y="222.60" width="0.9" height="1.2" fill="#ab1540" fill-opacity="0.7"/>
<path d="M294.45,182.4 H295.8 V183.1 H297.3 V183.8 H407.5" fill="none" stroke="#30508a" stroke-width="1.6" stroke-linejoin="miter" stroke-linecap="butt" />
<rect x="298.15" y="182.25" width="0.9" height="1.2" fill="#30508a" fill-opacity="0.7"/>
<rect x="300.45" y="182.25" width="0.9" height="1.2" fill="#30508a" fill-opacity="0.7"/>
<rect x="302.75" y="182.25" width="0.9" height="1.2" fill="#30508a" fill-opacity="0.7"/>
<rect x="305.05" y="182.25" width="0.9" height="1.2" fill="#30508a" fill-opacity="0.7"/>
<rect x="307.35" y="182.25" width="0.9" height="1.2" fill="#30508a" fill-opacity="0.7"/>
<rect x="309.65" y="182.25" width="0.9" height="1.2" fill="#30508a" fill-opacity="0.7"/>
<rect x="311.95" y="182.25" width="0.9" height="1.2" fill="#30508a" fill-opacity="0.7"/>
<rect x="314.25" y="182.25" width="0.9" height="1.2" fill="#30508a" fill-opacity="0.7"/>
<rect x="316.55" y="182.25" width="0.9" height="1.2" fill="#30508a" fill-opacity="0.7"/>
<rect x="318.85" y="182.25" width="0.9" height="1.2" fill="#30508a" fill-opacity="0.7"/>
<rect x="321.15" y="182.25" width="0.9" height="1.2" fill="#30508a" fill-opacity="0.7"/>
<rect x="323.45" y="182.25" width="0.9" height="1.2" fill="#30508a" fill-opacity="0.7"/>
<rect x="325.75" y="182.25" width="0.9" height="1.2" fill="#30508a" fill-opacity="0.7"/>
<rect x="328.05" y="182.25" width="0.9" height="1.2" fill="#30508a" fill-opacity="0.7"/>
<rect x="330.35" y="182.25" width="0.9" height="1.2" fill="#30508a" fill-opacity="0.7"/>
<rect x="332.65" y="182.25" width="0.9" height="1.2" fill="#30508a" fill-opacity="0.7"/>
<rect x="334.95" y="182.25" width="0.9" height="1.2" fill="#30508a" fill-opacity="0.7"/>
<rect x="337.25" y="182.25" width="0.9" height="1.2" fill="#30508a" fill-opacity="0.7"/>
<rect x="339.55" y="182.25" width="0.9" height="1.2" fill="#30508a" fill-opacity="0.7"/>
<rect x="341.85" y="182.25" width="0.9" height="1.2" fill="#30508a" fill-opacity="0.7"/>
<rect x="344.15" y="182.25" width="0.9" height="1.2" fill="#30508a" fill-opacity="0.7"/>
<rect x="346.45" y="182.25" width="0.9" height="1.2" fill="#30508a" fill-opacity="0.7"/>
<rect x="348.75" y="182.25" width="0.9" height="1.2" fill="#30508a" fill-opacity="0.7"/>
<rect x="351.05" y="182.25" width="0.9" height="1.2" fill="#30508a" fill-opacity="0.7"/>
<rect x="353.35" y="182.25" width="0.9" height="1.2" fill="#30508a" fill-opacity="0.7"/>
<rect x="355.65" y="182.25" width="0.9" height="1.2" fill="#30508a" fill-opacity="0.7"/>
<rect x="357.95" y="182.25" width="0.9" height="1.2" fill="#30508a" fill-opacity="0.7"/>
<rect x="360.25" y="182.25" width="0.9" height="1.2" fill="#30508a" fill-opacity="0.7"/>
<rect x="362.55" y="182.25" width="0.9" height="1.2" fill="#30508a" fill-opacity="0.7"/>
<rect x="364.85" y="182.25" width="0.9" height="1.2" fill="#30508a" fill-opacity="0.7"/>
<rect x="367.15" y="182.25" width="0.9" height="1.2" fill="#30508a" fill-opacity="0.7"/>
<rect x="369.45" y="182.25" width="0.9" height="1.2" fill="#30508a" fill-opacity="0.7"/>
<rect x="406.35" y="182.25" width="0.9" height="1.2" fill="#30508a" fill-opacity="0.7"/>
<line x1="294.45" y1="179.10" x2="294.45" y2="287.20" stroke="#151515" stroke-width="1.3"/>
<line x1="293.80" y1="286.55" x2="417.80" y2="286.55" stroke="#151515" stroke-width="1.3"/>
<line x1="291.15" y1="286.55" x2="294.45" y2="286.55" stroke="#151515" stroke-width="1.1"/>
<text x="288.25" y="289.15" font-size="8.2" text-anchor="end" textLength="4.10" lengthAdjust="spacingAndGlyphs" fill="#151515" stroke="#151515" stroke-width="0.25" >0</text>
<line x1="291.15" y1="265.72" x2="294.45" y2="265.72" stroke="#151515" stroke-width="1.1"/>
<text x="288.25" y="268.32" font-size="8.2" text-anchor="end" textLength="8.30" lengthAdjust="spacingAndGlyphs" fill="#151515" stroke="#151515" stroke-width="0.25" >20</text>
<line x1="291.15" y1="244.89" x2="294.45" y2="244.89" stroke="#151515" stroke-width="1.1"/>
<text x="288.25" y="247.49" font-size="8.2" text-anchor="end" textLength="8.30" lengthAdjust="spacingAndGlyphs" fill="#151515" stroke="#151515" stroke-width="0.25" >40</text>
<line x1="291.15" y1="224.06" x2="294.45" y2="224.06" stroke="#151515" stroke-width="1.1"/>
<text x="288.25" y="226.66" font-size="8.2" text-anchor="end" textLength="8.30" lengthAdjust="spacingAndGlyphs" fill="#151515" stroke="#151515" stroke-width="0.25" >60</text>
<line x1="291.15" y1="203.23" x2="294.45" y2="203.23" stroke="#151515" stroke-width="1.1"/>
<text x="288.25" y="205.83" font-size="8.2" text-anchor="end" textLength="8.30" lengthAdjust="spacingAndGlyphs" fill="#151515" stroke="#151515" stroke-width="0.25" >80</text>
<line x1="291.15" y1="182.40" x2="294.45" y2="182.40" stroke="#151515" stroke-width="1.1"/>
<text x="288.25" y="185.00" font-size="8.2" text-anchor="end" textLength="11.90" lengthAdjust="spacingAndGlyphs" fill="#151515" stroke="#151515" stroke-width="0.25" >100</text>
<line x1="294.45" y1="286.55" x2="294.45" y2="289.75" stroke="#151515" stroke-width="1.1"/>
<text x="294.45" y="299.80" font-size="8.2" text-anchor="middle" textLength="4.10" lengthAdjust="spacingAndGlyphs" fill="#151515" stroke="#151515" stroke-width="0.25" >0</text>
<line x1="307.81" y1="286.55" x2="307.81" y2="289.75" stroke="#151515" stroke-width="1.1"/>
<text x="307.81" y="299.80" font-size="8.2" text-anchor="middle" textLength="4.10" lengthAdjust="spacingAndGlyphs" fill="#151515" stroke="#151515" stroke-width="0.25" >3</text>
<line x1="321.17" y1="286.55" x2="321.17" y2="289.75" stroke="#151515" stroke-width="1.1"/>
<text x="321.17" y="299.80" font-size="8.2" text-anchor="middle" textLength="4.10" lengthAdjust="spacingAndGlyphs" fill="#151515" stroke="#151515" stroke-width="0.25" >6</text>
<line x1="334.53" y1="286.55" x2="334.53" y2="289.75" stroke="#151515" stroke-width="1.1"/>
<text x="334.53" y="299.80" font-size="8.2" text-anchor="middle" textLength="4.10" lengthAdjust="spacingAndGlyphs" fill="#151515" stroke="#151515" stroke-width="0.25" >9</text>
<line x1="347.89" y1="286.55" x2="347.89" y2="289.75" stroke="#151515" stroke-width="1.1"/>
<text x="347.89" y="299.80" font-size="8.2" text-anchor="middle" textLength="7.90" lengthAdjust="spacingAndGlyphs" fill="#151515" stroke="#151515" stroke-width="0.25" >12</text>
<line x1="361.25" y1="286.55" x2="361.25" y2="289.75" stroke="#151515" stroke-width="1.1"/>
<text x="361.25" y="299.80" font-size="8.2" text-anchor="middle" textLength="7.90" lengthAdjust="spacingAndGlyphs" fill="#151515" stroke="#151515" stroke-width="0.25" >15</text>
<line x1="374.61" y1="286.55" x2="374.61" y2="289.75" stroke="#151515" stroke-width="1.1"/>
<text x="374.61" y="299.80" font-size="8.2" text-anchor="middle" textLength="7.90" lengthAdjust="spacingAndGlyphs" fill="#151515" stroke="#151515" stroke-width="0.25" >18</text>
<line x1="387.97" y1="286.55" x2="387.97" y2="289.75" stroke="#151515" stroke-width="1.1"/>
<text x="387.97" y="299.80" font-size="8.2" text-anchor="middle" textLength="7.90" lengthAdjust="spacingAndGlyphs" fill="#151515" stroke="#151515" stroke-width="0.25" >21</text>
<line x1="401.33" y1="286.55" x2="401.33" y2="289.75" stroke="#151515" stroke-width="1.1"/>
<text x="401.33" y="299.80" font-size="8.2" text-anchor="middle" textLength="7.90" lengthAdjust="spacingAndGlyphs" fill="#151515" stroke="#151515" stroke-width="0.25" >24</text>
<line x1="414.69" y1="286.55" x2="414.69" y2="289.75" stroke="#151515" stroke-width="1.1"/>
<text x="414.69" y="299.80" font-size="8.2" text-anchor="middle" textLength="7.90" lengthAdjust="spacingAndGlyphs" fill="#151515" stroke="#151515" stroke-width="0.25" >27</text>
<text x="346.70" y="312.40" font-size="8.6" text-anchor="start" textLength="20.50" lengthAdjust="spacingAndGlyphs" fill="#151515" stroke="#151515" stroke-width="0.25" >Years</text>
<text x="0" y="0" font-size="9.6" text-anchor="middle" textLength="86.20" lengthAdjust="spacingAndGlyphs" fill="#151515" stroke="#151515" stroke-width="0.25" transform="translate(268.90,232.70) rotate(-90)">Probability of PFS [%]</text>
<text x="261.40" y="178.90" font-size="11.1" text-anchor="start" textLength="5.60" lengthAdjust="spacingAndGlyphs" fill="#151515" stroke="#151515" stroke-width="0.25" >E</text>
<text x="300.00" y="281.50" font-size="7.8" text-anchor="start" textLength="24.60" lengthAdjust="spacingAndGlyphs" fill="#151515" stroke="#151515" stroke-width="0.25" >p&lt;0.001</text>
<line x1="364.80" y1="248.70" x2="370.20" y2="248.70" stroke="#30508a" stroke-width="1.6"/>
<rect x="366.90" y="247.20" width="1.2" height="1.2" fill="#30508a"/>
<text x="373.30" y="250.20" font-size="8.3" text-anchor="start" textLength="36.30" lengthAdjust="spacingAndGlyphs" fill="#151515" stroke="#151515" stroke-width="0.25" >sCD44&lt;200</text>
<line x1="364.80" y1="259.60" x2="370.20" y2="259.60" stroke="#ab1540" stroke-width="1.6"/>
<rect x="366.90" y="258.10" width="1.2" height="1.2" fill="#ab1540"/>
<text x="373.30" y="261.00" font-size="8.3" text-anchor="start" textLength="36.30" lengthAdjust="spacingAndGlyphs" fill="#151515" stroke="#151515" stroke-width="0.25" >sCD44≥200</text>
<circle cx="353.50" cy="201.70" r="1.1" fill="#3a3a3a"/>
<rect x="0" y="0" width="520" height="1.1" fill="#2a2a2a"/>
<rect x="0" y="0" width="1.5" height="320" fill="#2a2a2a"/>
<rect x="518.1" y="0" width="1.9" height="320" fill="#111"/>
<rect x="0" y="318.6" width="520" height="1.4" fill="#111"/>
</svg>
</body></html>
